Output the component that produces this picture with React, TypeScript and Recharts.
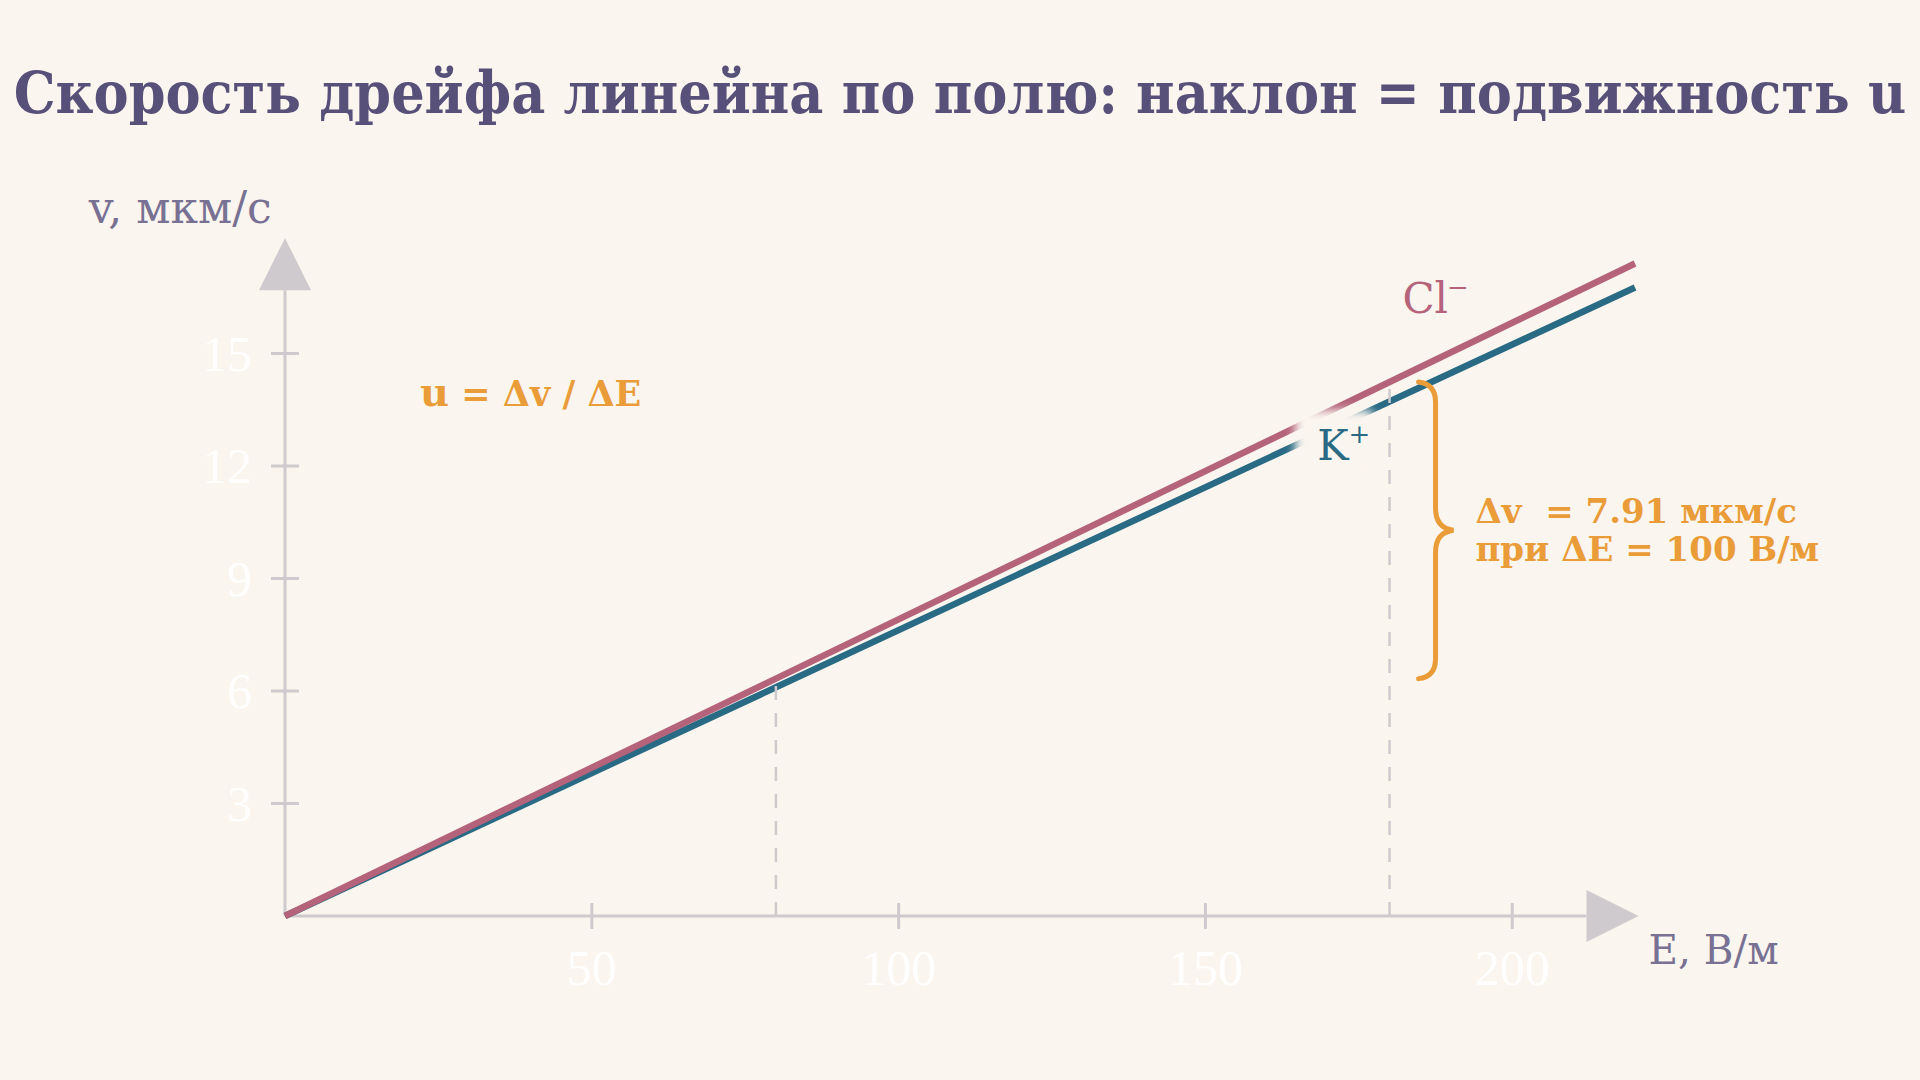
import { Line, LineChart, ReferenceDot, ReferenceLine, XAxis, YAxis } from "recharts";

// напряжённость поля, В/м
const polje = [0, 80, 180, 220];
// скорость дрейфа, мкм/с
const skorostCl = [0, 6.33, 14.24, 17.4];
const skorostK = [0, 6.1, 13.72, 16.76];

const tickiE = [50, 100, 150, 200];
const tickiV = [3, 6, 9, 12, 15];

const FON = "#faf5ee";
const OS = "#cfcacd";
const CVET_CL = "#b4637b";
const CVET_K = "#296a84";
const ORANZH = "#e99c38";
const SERIF = "'DejaVu Serif', serif";
const SERIF_UZK = "'DejaVu Serif Condensed', 'DejaVu Serif', serif";

const dannye = polje.map((e, i) => ({ e, cl: skorostCl[i], k: skorostK[i] }));

function TikV({ x, y, payload }: any) {
  return (
    <g>
      <line x1={x - 14} x2={x + 14} y1={y} y2={y} stroke={OS} strokeWidth={3} />
      <text x={x - 33} y={y} textAnchor="end" dominantBaseline="central" fill="#ffffff" fontSize={50} fontFamily="'Liberation Serif', serif">
        {payload.value}
      </text>
    </g>
  );
}

function TikE({ x, y, payload }: any) {
  return (
    <g>
      <line x1={x} x2={x} y1={y - 13} y2={y + 13} stroke={OS} strokeWidth={3} />
      <text x={x} y={y + 52} textAnchor="middle" dominantBaseline="central" fill="#ffffff" fontSize={50} fontFamily="'Liberation Serif', serif">
        {payload.value}
      </text>
    </g>
  );
}

function Strelka({ cx, cy, vverh }: any) {
  const pts = vverh
    ? `${cx - 26},${cy} ${cx + 26},${cy} ${cx},${cy - 52}`
    : `${cx},${cy - 26} ${cx},${cy + 26} ${cx + 52},${cy}`;
  return <polygon points={pts} fill={OS} />;
}

function Podpis({ cx, cy, tekst, sup, cvet, id, sdvig }: any) {
  return (
    <g>
      <defs>
        <filter id={id} x="-50%" y="-50%" width="200%" height="200%">
          <feGaussianBlur stdDeviation={5} />
        </filter>
      </defs>
      <rect x={cx - 22} y={cy - 50} width={78} height={66} fill={FON} filter={`url(#${id})`} />
      <text x={cx} y={cy} fill={cvet} fontSize={42} fontFamily={SERIF}>
        {tekst}
        <tspan dx={sdvig} dy={-17} fontSize={26}>{sup}</tspan>
      </text>
    </g>
  );
}

function Skobka({ x1, y1, y2 }: any) {
  const x = x1 + 46;
  const top = Math.min(y1, y2);
  const bot = Math.max(y1, y2);
  const mid = (top + bot) / 2;
  const d = [
    `M ${x - 17} ${top}`,
    `Q ${x} ${top + 2} ${x} ${top + 20}`,
    `L ${x} ${mid - 22}`,
    `Q ${x} ${mid - 2} ${x + 18} ${mid}`,
    `Q ${x} ${mid + 2} ${x} ${mid + 22}`,
    `L ${x} ${bot - 20}`,
    `Q ${x} ${bot - 2} ${x - 17} ${bot}`,
  ].join(" ");
  return <path d={d} fill="none" stroke={ORANZH} strokeWidth={5} strokeLinecap="round" />;
}

function TekstMetka({ cx, cy, children, razmer, cvet, shrift, ves }: any) {
  return (
    <text x={cx} y={cy} fill={cvet} fontSize={razmer} fontFamily={shrift} fontWeight={ves}>
      {children}
    </text>
  );
}

export default function App() {
  return (
    <div style={{ position: "relative", width: 1920, height: 1080, background: FON }}>
      <style>{`body{margin:0;background:${FON}}`}</style>
      <div
        style={{
          position: "absolute",
          top: 63,
          left: 0,
          width: 1920,
          textAlign: "center",
          fontFamily: SERIF_UZK,
          fontWeight: 700,
          fontSize: 58.5,
          lineHeight: "60px",
          color: "#575079",
          whiteSpace: "nowrap",
        }}
      >
        Скорость дрейфа линейна по полю: наклон = подвижность u
      </div>
      <LineChart
        width={1920}
        height={1080}
        data={dannye}
        margin={{ top: 241, right: 285, left: 225, bottom: 134 }}
        style={{ position: "absolute", top: 0, left: 0 }}
      >
        <XAxis
          dataKey="e"
          type="number"
          domain={[0, 220]}
          ticks={tickiE}
          height={30}
          axisLine={false}
          tickLine={false}
          tickSize={0}
          tickMargin={0}
          tick={<TikE />}
        />
        <YAxis
          type="number"
          domain={[0, 18]}
          ticks={tickiV}
          width={60}
          axisLine={false}
          tickLine={false}
          tickSize={0}
          tickMargin={0}
          tick={<TikV />}
        />

        <ReferenceLine segment={[{ x: 0, y: 0 }, { x: 212.1, y: 0 }]} stroke={OS} strokeWidth={3} />
        <ReferenceLine segment={[{ x: 0, y: 0 }, { x: 0, y: 16.69 }]} stroke={OS} strokeWidth={3} />
        <ReferenceDot x={0} y={16.69} ifOverflow="visible" shape={(p: any) => <Strelka {...p} vverh />} />
        <ReferenceDot x={212.1} y={0} ifOverflow="visible" shape={(p: any) => <Strelka {...p} />} />

        <Line type="linear" dataKey="k" stroke={CVET_K} strokeWidth={6.5} dot={false} activeDot={false} isAnimationActive={false} />
        <Line type="linear" dataKey="cl" stroke={CVET_CL} strokeWidth={6.5} dot={false} activeDot={false} isAnimationActive={false} />

        <ReferenceLine
          segment={[{ x: polje[1], y: 0 }, { x: polje[1], y: skorostCl[1] }]}
          stroke={OS}
          strokeWidth={2.5}
          strokeDasharray="14 13"
          zIndex={2100}
        />
        <ReferenceLine
          segment={[{ x: polje[2], y: 0 }, { x: polje[2], y: skorostCl[2] }]}
          stroke={OS}
          strokeWidth={2.5}
          strokeDasharray="14 13"
          zIndex={2100}
        />
        <ReferenceLine
          segment={[{ x: polje[2], y: skorostCl[2] }, { x: polje[2], y: skorostCl[1] }]}
          ifOverflow="visible"
          shape={(p: any) => <Skobka {...p} />}
          zIndex={2100}
        />

        <ReferenceDot
          x={168.2}
          y={12.16}
          ifOverflow="visible"
          zIndex={2200}
          shape={(p: any) => <Podpis {...p} tekst="K" sup="+" cvet={CVET_K} id="haloK" sdvig={0} />}
        />
        <ReferenceDot
          x={182.1}
          y={16.08}
          ifOverflow="visible"
          zIndex={2200}
          shape={(p: any) => <Podpis {...p} tekst="Cl" sup="−" cvet={CVET_CL} id="haloCl" sdvig={-1} />}
        />
        <ReferenceDot
          x={22}
          y={13.6}
          ifOverflow="visible"
          zIndex={2200}
          shape={(p: any) => (
            <TekstMetka {...p} razmer={35} cvet={ORANZH} shrift={SERIF} ves={700}>
              <tspan fontSize={40}>u</tspan> = Δv / ΔE
            </TekstMetka>
          )}
        />
        <ReferenceDot
          x={194}
          y={10.48}
          ifOverflow="visible"
          zIndex={2200}
          shape={(p: any) => (
            <text x={p.cx} y={p.cy} fill={ORANZH} fontSize={34} fontFamily={SERIF} fontWeight={700} style={{ whiteSpace: "pre" }}>
              <tspan x={p.cx}>{"Δv  = 7.91 мкм/с"}</tspan>
              <tspan x={p.cx} dy={38}>при ΔE = 100 В/м</tspan>
            </text>
          )}
        />
        <ReferenceDot
          x={-32}
          y={18.48}
          ifOverflow="visible"
          zIndex={2200}
          shape={(p: any) => (
            <TekstMetka {...p} razmer={44} cvet="#787193" shrift={SERIF}>
              v, мкм/с
            </TekstMetka>
          )}
        />
        <ReferenceDot
          x={222.2}
          y={-1.28}
          ifOverflow="visible"
          zIndex={2200}
          shape={(p: any) => (
            <TekstMetka {...p} razmer={40.5} cvet="#787193" shrift={SERIF}>
              E, В/м
            </TekstMetka>
          )}
        />
      </LineChart>
    </div>
  );
}
